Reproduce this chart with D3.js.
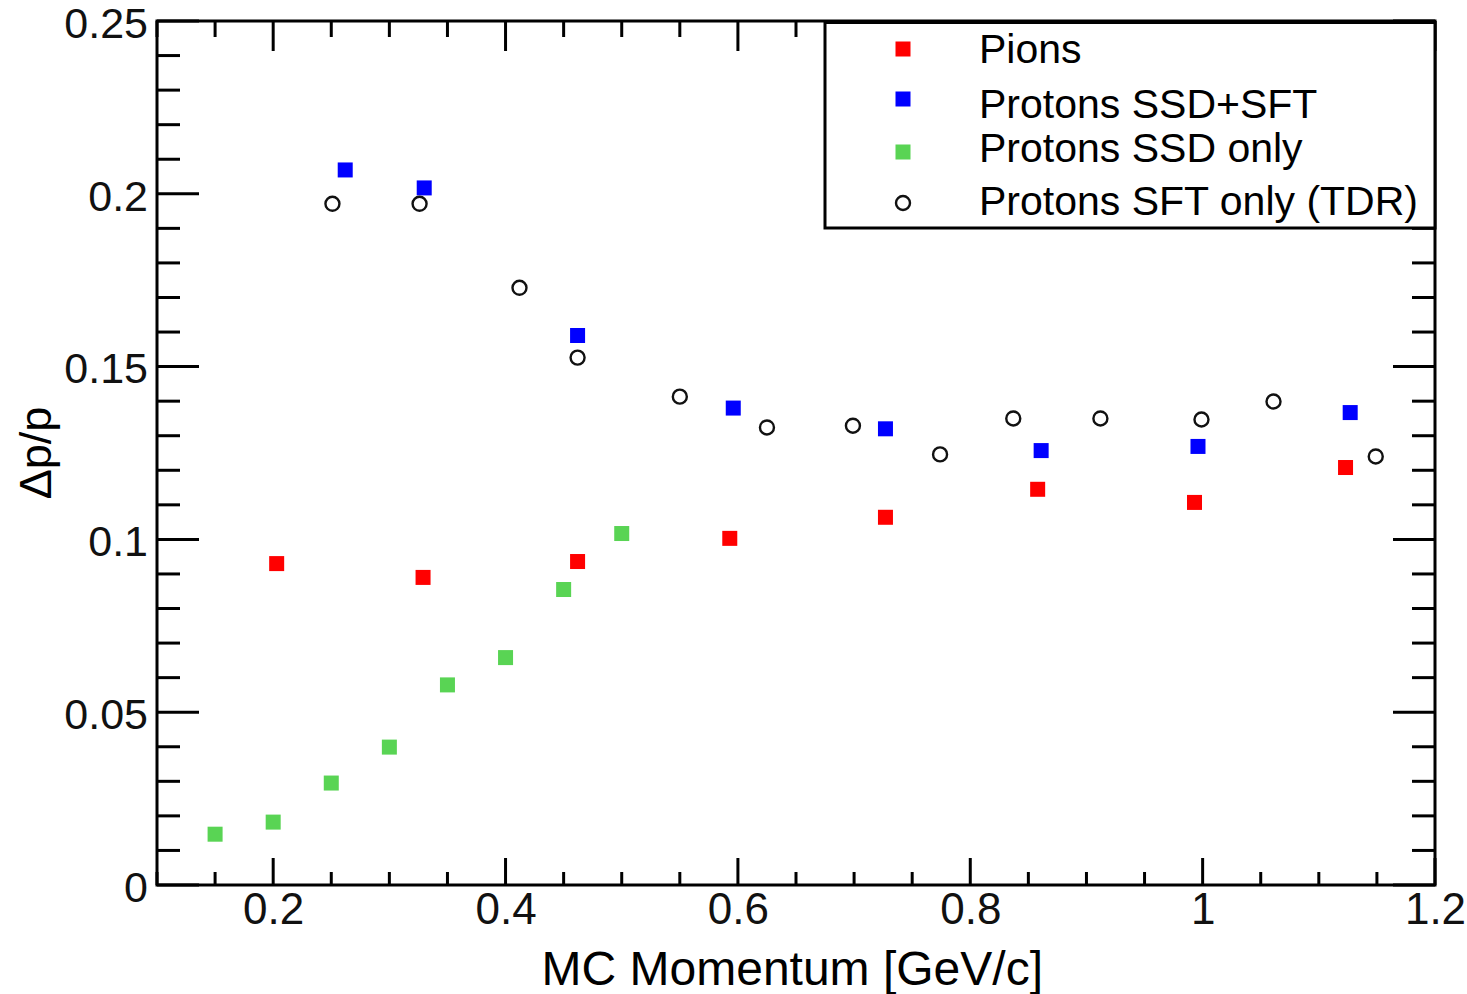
<!DOCTYPE html>
<html>
<head>
<meta charset="utf-8">
<script src="https://cdn.jsdelivr.net/npm/d3@7"></script>
<style>
    body { margin: 0; background: #fff; }
    svg { font-family: "Liberation Sans", Arial, sans-serif; }
</style>
</head>
<body>
<div id="chart"></div>
<script>
// values
const pionsX = [0.203, 0.329, 0.462, 0.593, 0.727, 0.858, 0.993, 1.123];
const pionsY = [0.0930, 0.0890, 0.0936, 0.1003, 0.1064, 0.1145, 0.1107, 0.1208];

const ssdSftX = [0.262, 0.330, 0.462, 0.596, 0.727, 0.861, 0.996, 1.127];
const ssdSftY = [0.2069, 0.2017, 0.1590, 0.1380, 0.1320, 0.1257, 0.1269, 0.1367];

const ssdOnlyX = [0.15, 0.20, 0.25, 0.30, 0.35, 0.40, 0.45, 0.50];
const ssdOnlyY = [0.0147, 0.0182, 0.0295, 0.0399, 0.0579, 0.0658, 0.0855, 0.1017];

const sftOnlyX = [0.251, 0.326, 0.412, 0.462, 0.550, 0.625, 0.699, 0.774, 0.837, 0.912, 0.999, 1.061, 1.149];
const sftOnlyY = [0.1971, 0.1971, 0.1728, 0.1526, 0.1413, 0.1324, 0.1329, 0.1246, 0.1350, 0.1350, 0.1347, 0.1399, 0.1240];

const xTicks = [0.2, 0.4, 0.6, 0.8, 1, 1.2];
const yTicks = [0, 0.05, 0.1, 0.15, 0.2, 0.25];
const legendLabels = ["Pions", "Protons SSD+SFT", "Protons SSD only", "Protons SFT only (TDR)"];

const margin = {top: 21, right: 32, bottom: 109, left: 157};
const width = 1467 - margin.left - margin.right;
const height = 994 - margin.top - margin.bottom;

const svg = d3.select("#chart").append("svg")
    .attr("width", 1467)
    .attr("height", 994);

const g = svg.append("g")
    .attr("transform", "translate(" + margin.left + "," + margin.top + ")");

const x = d3.scaleLinear().domain([0.1, 1.2]).range([0, width]);
const y = d3.scaleLinear().domain([0, 0.25]).range([height, 0]);

// ROOT style ticks, inward on all four sides
const xMinor = d3.range(0.1, 1.2001, 0.05);
const yMinor = d3.range(0, 0.2501, 0.01);
const isMajor = (v, step) => Math.abs(v / step - Math.round(v / step)) < 1e-6;

const ticksG = g.append("g").attr("stroke", "#000").attr("stroke-width", 3);

xMinor.forEach(v => {
    let len = isMajor(v, 0.2) ? 27 : 13;
    ticksG.append("line")
        .attr("x1", x(v)).attr("x2", x(v))
        .attr("y1", height).attr("y2", height - len);
    ticksG.append("line")
        .attr("x1", x(v)).attr("x2", x(v))
        .attr("y1", 0).attr("y2", len + 3);
});

yMinor.forEach(v => {
    let len = isMajor(v, 0.05) ? 42 : 23;
    ticksG.append("line")
        .attr("x1", 0).attr("x2", len)
        .attr("y1", y(v)).attr("y2", y(v));
    ticksG.append("line")
        .attr("x1", width).attr("x2", width - len)
        .attr("y1", y(v)).attr("y2", y(v));
});

// tick labels via axes, lines hidden
const xAxis = d3.axisBottom(x).tickValues(xTicks).tickFormat(d3.format("")).tickSize(0);
const yAxis = d3.axisLeft(y).tickValues(yTicks).tickFormat(d3.format("")).tickSize(0);

const gx = g.append("g")
    .attr("transform", "translate(0," + height + ")")
    .call(xAxis);
gx.select(".domain").remove();
gx.selectAll("text")
    .attr("font-size", 44)
    .attr("font-family", "Liberation Sans, Arial, sans-serif")
    .attr("fill", "#111")
    .attr("y", 8)
    .attr("dy", "0.71em");

const gy = g.append("g").call(yAxis);
gy.select(".domain").remove();
gy.selectAll("text")
    .attr("font-size", 43)
    .attr("font-family", "Liberation Sans, Arial, sans-serif")
    .attr("fill", "#111")
    .attr("x", -9)
    .attr("dy", "0.38em");

// frame
g.append("rect")
    .attr("width", width).attr("height", height)
    .attr("fill", "none").attr("stroke", "#000").attr("stroke-width", 3);

// axis titles
svg.append("text")
    .attr("x", 1043).attr("y", 985)
    .attr("text-anchor", "end")
    .attr("font-size", 48)
    .text("MC Momentum [GeV/c]");

svg.append("text")
    .attr("transform", "translate(51,453) rotate(-90)")
    .attr("text-anchor", "middle")
    .attr("font-size", 45)
    .text("Δp/p");

// markers
const sq = 15;
function squares(xs, ys, color) {
    g.append("g").selectAll("rect")
        .data(xs.map((d, i) => [d, ys[i]]))
        .enter().append("rect")
        .attr("x", d => x(d[0]) - sq / 2)
        .attr("y", d => y(d[1]) - sq / 2)
        .attr("width", sq).attr("height", sq)
        .attr("fill", color);
}
squares(ssdOnlyX, ssdOnlyY, "#59d454");
squares(pionsX, pionsY, "#ff0000");
squares(ssdSftX, ssdSftY, "#0000ff");

g.append("g").selectAll("circle")
    .data(sftOnlyX.map((d, i) => [d, sftOnlyY[i]]))
    .enter().append("circle")
    .attr("cx", d => x(d[0]))
    .attr("cy", d => y(d[1]))
    .attr("r", 7)
    .attr("fill", "none")
    .attr("stroke", "#111")
    .attr("stroke-width", 2.4);

// legend
const legend = svg.append("g");
legend.append("rect")
    .attr("x", 825).attr("y", 22.5)
    .attr("width", 1435 - 825).attr("height", 228 - 22.5)
    .attr("fill", "#fff").attr("stroke", "#000").attr("stroke-width", 3);

const legendMarkY = [49, 99, 152, 203];
const legendTextY = [63, 118, 162, 215];
const legendColors = ["#ff0000", "#0000ff", "#59d454", null];

legendLabels.forEach((label, i) => {
    if (legendColors[i]) {
        legend.append("rect")
            .attr("x", 903 - sq / 2).attr("y", legendMarkY[i] - sq / 2)
            .attr("width", sq).attr("height", sq)
            .attr("fill", legendColors[i]);
    } else {
        legend.append("circle")
            .attr("cx", 903).attr("cy", legendMarkY[i]).attr("r", 7)
            .attr("fill", "none").attr("stroke", "#111").attr("stroke-width", 2.4);
    }
    legend.append("text")
        .attr("x", 979).attr("y", legendTextY[i])
        .attr("font-size", 41)
        .text(label);
});
</script>
</body>
</html>
